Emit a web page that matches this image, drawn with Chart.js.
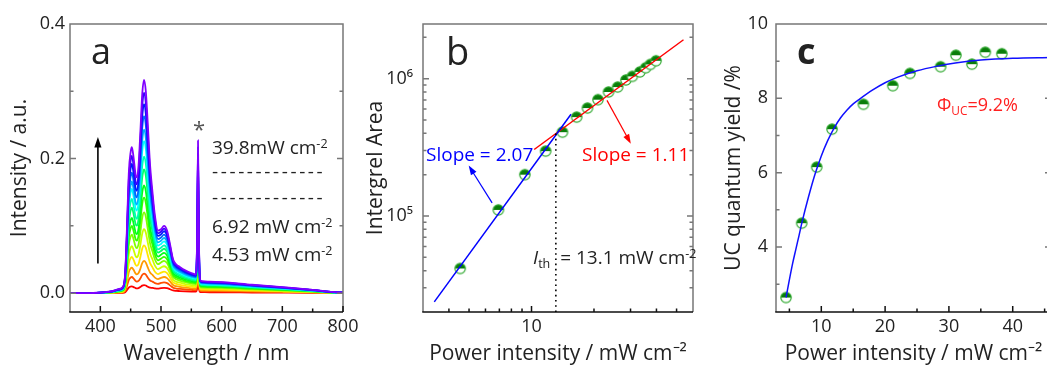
<!DOCTYPE html>
<html>
<head>
<meta charset="utf-8">
<script src="https://cdn.jsdelivr.net/npm/chart.js@4.4.1/dist/chart.umd.min.js"></script>
<style>
  body { margin: 0; width: 1047px; height: 369px; overflow: hidden; background: #fff; position: relative;
         font-family: 'Open Sans', sans-serif; color: #222; }
  canvas { position: absolute; top: 0; }
  .t { position: absolute; white-space: nowrap; line-height: 1; }
  .t sup { font-size: 0.66em; position: relative; top: -0.5em; vertical-align: baseline; }
  .t sub { font-size: 0.66em; position: relative; top: 0.3em; vertical-align: baseline; }
</style>
</head>
<body>
<canvas id="chartA" width="365" height="369" style="left:0"></canvas>
<canvas id="chartB" width="350" height="369" style="left:350px"></canvas>
<canvas id="chartC" width="360" height="369" style="left:700px"></canvas>

<div class="t" style="left:91px;top:33px;font-size:36px">a</div>
<div class="t" style="left:193px;top:117px;font-size:22px;color:#555">*</div>
<div class="t" style="left:212px;top:138px;font-size:19px">39.8mW cm<sup>-2</sup></div>
<div class="t" style="left:212px;top:162px;font-size:19px;letter-spacing:2.6px">-------------</div>
<div class="t" style="left:212px;top:188px;font-size:19px;letter-spacing:2.6px">-------------</div>
<div class="t" style="left:212px;top:217px;font-size:19px">6.92 mW cm<sup>-2</sup></div>
<div class="t" style="left:212px;top:245px;font-size:19px">4.53 mW cm<sup>-2</sup></div>

<div class="t" style="left:446px;top:31px;font-size:38px">b</div>
<div class="t" style="left:426px;top:145px;font-size:19px;color:#0000ff">Slope = 2.07</div>
<div class="t" style="left:582px;top:145px;font-size:19px;color:#ff0000">Slope = 1.11</div>
<div class="t" style="left:533px;top:248px;font-size:19px"><i>I</i><sub>th</sub>&nbsp; = 13.1 mW cm<sup>-2</sup></div>

<div class="t" style="left:797px;top:33px;font-size:36px;font-weight:bold">c</div>
<div class="t" style="left:937px;top:95px;font-size:18px;color:#ff2020">&Phi;<sub>UC</sub>=9.2%</div>

<script>
// excitation power densities (mW cm-2), lowest to highest
const powers = [4.53, 6.92, 9.29, 11.7, 14.1, 16.5, 18.6, 20.9, 23.5, 26.0, 28.5, 30.6, 33.3, 35.5, 37.4, 39.8];

// emission spectrum at the highest power
const wavelengths = [350, 380, 400, 420, 430, 437, 441, 444, 447, 450,
  452, 455, 458, 460, 463, 466, 469, 472, 475, 478,
  482, 486, 490, 495, 500, 505, 510, 515, 520, 525,
  531, 540, 550, 557.5, 559.5, 561, 562.5, 564.5, 567, 580,
  600, 650, 700, 750, 780, 800];
const topSpectrum = [0, 0, 0.001, 0.003, 0.006, 0.009, 0.03, 0.10, 0.18, 0.21,
  0.217, 0.20, 0.177, 0.172, 0.19, 0.24, 0.295, 0.317, 0.30, 0.255,
  0.19, 0.15, 0.115, 0.093, 0.095, 0.100, 0.093, 0.072, 0.05, 0.043,
  0.039, 0.034, 0.030, 0.028, 0.08, 0.227, 0.08, 0.02, 0.018, 0.017,
  0.0165, 0.0125, 0.009, 0.005, 0.002, 0.001];

// band heights of every spectrum
const peak452 = [0.010, 0.024, 0.038, 0.054, 0.070, 0.087, 0.100, 0.112, 0.127, 0.140, 0.155, 0.166, 0.179, 0.192, 0.204, 0.217];
const peak472 = [0.012, 0.029, 0.048, 0.071, 0.095, 0.120, 0.142, 0.160, 0.184, 0.203, 0.226, 0.243, 0.263, 0.281, 0.298, 0.317];
const peak505 = [0.008, 0.016, 0.024, 0.032, 0.040, 0.048, 0.054, 0.060, 0.066, 0.071, 0.077, 0.082, 0.087, 0.092, 0.096, 0.100];

const aTicksX = [400, 500, 600, 700, 800];
const aTicksY = [0, 0.2, 0.4];

// integrated upconversion area vs power
const areas = [4.15e4, 1.107e5, 2.0e5, 2.97e5, 4.08e5, 5.25e5, 6.11e5, 7.03e5, 8.0e5, 8.69e5, 9.78e5, 1.04e6, 1.12e6, 1.2e6, 1.27e6, 1.35e6];
const lowFitX = [3.4, 15.5];
const lowFitY = [2.37e4, 5.5e5];
const highFitX = [10.3, 54];
const highFitY = [3.05e5, 1.92e6];
const threshold = 13.1;
const bTicksX = [10];
const bTicksY = [1e5, 1e6];

// upconversion quantum yield vs power
const yieldPower = [4.47, 6.93, 9.28, 11.68, 16.6, 21.2, 23.9, 28.7, 31.1, 33.6, 35.7, 38.3];
const yieldValue = [2.64, 4.64, 6.15, 7.17, 7.84, 8.34, 8.67, 8.85, 9.16, 8.92, 9.24, 9.2];
const yieldFitX = [4.47, 5, 5.5, 6, 6.5, 7, 8, 9, 10, 11, 12, 13, 14, 15, 16, 18, 20, 22, 25, 28, 31, 35, 40, 46];
const yieldFitY = [2.64, 3.12, 3.55, 3.93, 4.3, 4.68, 5.35, 5.95, 6.45, 6.86, 7.2, 7.47, 7.68, 7.85, 7.98, 8.22, 8.42, 8.57, 8.74, 8.86, 8.95, 9.03, 9.08, 9.1];
const cTicksX = [10, 20, 30, 40];
const cTicksY = [4, 6, 8, 10];

const FONT = "'Open Sans', sans-serif";
const INK = '#222';
const tickFont = { family: FONT, size: 18 };
const titleFont = { family: FONT, size: 21 };

// axis box with inward tick marks
const framePlugin = {
  id: 'frame',
  afterDatasetsDraw(chart, args, opts) {
    const { ctx, chartArea: { left, right, top, bottom }, scales: { x, y } } = chart;
    ctx.save();
    ctx.lineWidth = 1.5;
    ctx.strokeStyle = '#777';
    ctx.beginPath();
    ctx.moveTo(left, bottom); ctx.lineTo(left, top); ctx.lineTo(right, top); ctx.lineTo(right, bottom);
    const yMark = (v, len) => {
      const p = y.getPixelForValue(v);
      ctx.moveTo(left, p); ctx.lineTo(left + len, p);
      ctx.moveTo(right, p); ctx.lineTo(right - len, p);
    };
    opts.yMajor.forEach(v => yMark(v, 6));
    opts.yMinor.forEach(v => yMark(v, 3.5));
    ctx.stroke();

    ctx.strokeStyle = '#111';
    ctx.beginPath();
    ctx.moveTo(left - 0.75, bottom); ctx.lineTo(right, bottom);
    const xMark = (v, len) => {
      const p = x.getPixelForValue(v);
      ctx.moveTo(p, bottom); ctx.lineTo(p, bottom - len);
    };
    opts.xMajor.forEach(v => xMark(v, 6));
    opts.xMinor.forEach(v => xMark(v, 3.5));
    ctx.stroke();
    ctx.restore();
  }
};

// arrows and guide lines in data coordinates
const marksPlugin = {
  id: 'marks',
  afterDatasetsDraw(chart, args, opts) {
    const { ctx, scales: { x, y } } = chart;
    const px = p => [x.getPixelForValue(p[0]), y.getPixelForValue(p[1])];
    ctx.save();
    (opts.arrows || []).forEach(a => {
      const [x0, y0] = px(a.from);
      const [x1, y1] = px(a.to);
      const ang = Math.atan2(y1 - y0, x1 - x0);
      const h = a.head;
      ctx.strokeStyle = a.color;
      ctx.fillStyle = a.color;
      ctx.lineWidth = a.width;
      ctx.beginPath();
      ctx.moveTo(x0, y0);
      ctx.lineTo(x1 - h * 0.7 * Math.cos(ang), y1 - h * 0.7 * Math.sin(ang));
      ctx.stroke();
      ctx.beginPath();
      ctx.moveTo(x1, y1);
      ctx.lineTo(x1 - h * Math.cos(ang - 0.33), y1 - h * Math.sin(ang - 0.33));
      ctx.lineTo(x1 - h * Math.cos(ang + 0.33), y1 - h * Math.sin(ang + 0.33));
      ctx.closePath();
      ctx.fill();
    });
    (opts.dotted || []).forEach(d => {
      const [x0, y0] = px(d.from);
      const [x1, y1] = px(d.to);
      ctx.strokeStyle = '#000';
      ctx.lineWidth = 1.6;
      ctx.setLineDash([1.6, 3.6]);
      ctx.beginPath();
      ctx.moveTo(x0, y0); ctx.lineTo(x1, y1);
      ctx.stroke();
    });
    ctx.restore();
  }
};

function axes(opts) {
  return {
    x: {
      type: opts.xType || 'linear', min: opts.xMin, max: opts.xMax,
      grid: { display: false, drawTicks: false }, border: { display: false },
      afterBuildTicks: s => { s.ticks = opts.xTicks.map(v => ({ value: v })); },
      afterFit: s => { s.height = 57; },
      ticks: { font: tickFont, color: INK, padding: 4, autoSkip: false, maxRotation: 0,
               callback: opts.xLabel || (v => String(v)) },
      title: { display: true, text: opts.xTitle, font: titleFont, color: INK, padding: { top: 0, bottom: 2 } }
    },
    y: {
      type: opts.yType || 'linear', min: opts.yMin, max: opts.yMax,
      grid: { display: false, drawTicks: false }, border: { display: false },
      afterBuildTicks: s => { s.ticks = opts.yTicks.map(v => ({ value: v })); },
      afterFit: s => { s.width = opts.yWidth; },
      ticks: { font: tickFont, color: INK, padding: opts.yPad, autoSkip: false,
               callback: opts.yLabel || (v => String(v)) },
      title: { display: true, text: opts.yTitle, font: titleFont, color: INK, padding: { top: opts.yTitlePad, bottom: 0 } }
    }
  };
}

// half-filled circle marker
function halfDot(r) {
  const c = document.createElement('canvas');
  const s = Math.ceil(2 * r + 3);
  c.width = c.height = s;
  const g = c.getContext('2d');
  const m = s / 2;
  g.fillStyle = '#fff';
  g.beginPath(); g.arc(m, m, r, 0, 2 * Math.PI); g.fill();
  g.fillStyle = '#0a7d0a';
  g.beginPath(); g.arc(m, m, r, Math.PI, 2 * Math.PI); g.closePath(); g.fill();
  g.strokeStyle = '#2fa82f';
  g.lineWidth = 1.2;
  g.beginPath(); g.arc(m, m, r, 0, 2 * Math.PI); g.stroke();
  return c;
}
const dot = halfDot(5.2);

const common = {
  responsive: false,
  animation: false,
  events: []
};

// ---- panel a: spectra, red (low power) to violet (high power)
const last = powers.length - 1;
function spectrum(i) {
  const r1 = peak452[i] / peak452[last];
  const r2 = peak472[i] / peak472[last];
  const r3 = peak505[i] / peak505[last];
  return wavelengths.map((w, k) => {
    let f;
    if (w <= 453) f = r1;
    else if (w < 466) f = r1 + (r2 - r1) * (w - 453) / 13;
    else if (w <= 480) f = r2;
    else if (w < 498) f = r2 + (r3 - r2) * (w - 480) / 18;
    else f = r3;
    return { x: w, y: topSpectrum[k] * f };
  });
}
const spectraSets = powers.map((p, i) => ({
  label: p + ' mW cm-2',
  data: spectrum(i),
  borderColor: `hsl(${270 * i / last}, 100%, 50%)`,
  borderWidth: 1.8,
  pointRadius: 0,
  cubicInterpolationMode: 'monotone',
  order: last - i
}));

new Chart(document.getElementById('chartA'), {
  type: 'line',
  data: { datasets: spectraSets },
  options: {
    ...common,
    layout: { padding: { top: 24, right: 22, left: 0, bottom: 0 } },
    plugins: {
      legend: { display: false }, tooltip: { enabled: false },
      frame: { xMajor: aTicksX, xMinor: [450, 550, 650, 750], yMajor: aTicksY, yMinor: [0.1, 0.3] },
      marks: { arrows: [{ from: [396, 0.044], to: [396, 0.232], color: '#000', width: 1.6, head: 11 }] }
    },
    scales: axes({
      xMin: 350, xMax: 800, xTicks: aTicksX, xTitle: 'Wavelength / nm',
      yMin: -0.028, yMax: 0.4, yTicks: aTicksY, yTitle: 'Intensity / a.u.',
      yWidth: 70, yPad: 5, yTitlePad: 7, yLabel: v => v.toFixed(1)
    })
  },
  plugins: [framePlugin, marksPlugin]
});

// ---- panel b: log-log power dependence
const sup = { 5: '\u2075', 6: '\u2076' };
new Chart(document.getElementById('chartB'), {
  type: 'line',
  data: {
    datasets: [
      { data: lowFitX.map((x, i) => ({ x, y: lowFitY[i] })), borderColor: '#0000ff', borderWidth: 1.5, pointRadius: 0, order: 0 },
      { data: highFitX.map((x, i) => ({ x, y: highFitY[i] })), borderColor: '#ff0000', borderWidth: 1.5, pointRadius: 0, order: 0 },
      { data: powers.map((x, i) => ({ x, y: areas[i] })), showLine: false, pointStyle: dot, pointRadius: 6, order: 1 }
    ]
  },
  options: {
    ...common,
    layout: { padding: { top: 24, right: 4, left: 0, bottom: 0 } },
    plugins: {
      legend: { display: false }, tooltip: { enabled: false },
      frame: {
        xMajor: bTicksX, xMinor: [4, 5, 6, 7, 8, 9, 20, 30, 40, 50],
        yMajor: bTicksY, yMinor: [3e4, 4e4, 5e4, 6e4, 7e4, 8e4, 9e4, 2e5, 3e5, 4e5, 5e5, 6e5, 7e5, 8e5, 9e5, 2e6]
      },
      marks: {
        arrows: [
          { from: [6.46, 1.245e5], to: [4.98, 2.33e5], color: '#0000ff', width: 1.2, head: 10 },
          { from: [23.1, 6.95e5], to: [30.1, 3.36e5], color: '#ff0000', width: 1.2, head: 10 }
        ],
        dotted: [{ from: [threshold, 2e4], to: [threshold, 4.0e5] }]
      }
    },
    scales: axes({
      xType: 'logarithmic', xMin: 3, xMax: 60, xTicks: bTicksX, xTitle: 'Power intensity / mW cm\u207B\u00B2',
      yType: 'logarithmic', yMin: 2e4, yMax: 2.5e6, yTicks: bTicksY, yTitle: 'Intergrel Area',
      yWidth: 73, yPad: 10, yTitlePad: 13,
      yLabel: v => '10' + sup[Math.round(Math.log10(v))]
    })
  },
  plugins: [framePlugin, marksPlugin]
});

// ---- panel c: quantum yield
new Chart(document.getElementById('chartC'), {
  type: 'line',
  data: {
    datasets: [
      { data: yieldFitX.map((x, i) => ({ x, y: yieldFitY[i] })), borderColor: '#1010ff', borderWidth: 1.5,
        pointRadius: 0, cubicInterpolationMode: 'monotone', order: 0 },
      { data: yieldPower.map((x, i) => ({ x, y: yieldValue[i] })), showLine: false, pointStyle: dot, pointRadius: 6, order: 1 }
    ]
  },
  options: {
    ...common,
    layout: { padding: { top: 24, right: 9, left: 0, bottom: 0 } },
    plugins: {
      legend: { display: false }, tooltip: { enabled: false },
      frame: { xMajor: cTicksX, xMinor: [5, 15, 25, 35, 45], yMajor: cTicksY, yMinor: [3, 5, 7, 9] }
    },
    scales: axes({
      xMin: 2.9, xMax: 46, xTicks: cTicksX, xTitle: 'Power intensity / mW cm\u207B\u00B2',
      yMin: 2.25, yMax: 10, yTicks: cTicksY, yTitle: 'UC quantum yield /%',
      yWidth: 76, yPad: 8, yTitlePad: 21
    })
  },
  plugins: [framePlugin]
});
</script>
</body>
</html>
